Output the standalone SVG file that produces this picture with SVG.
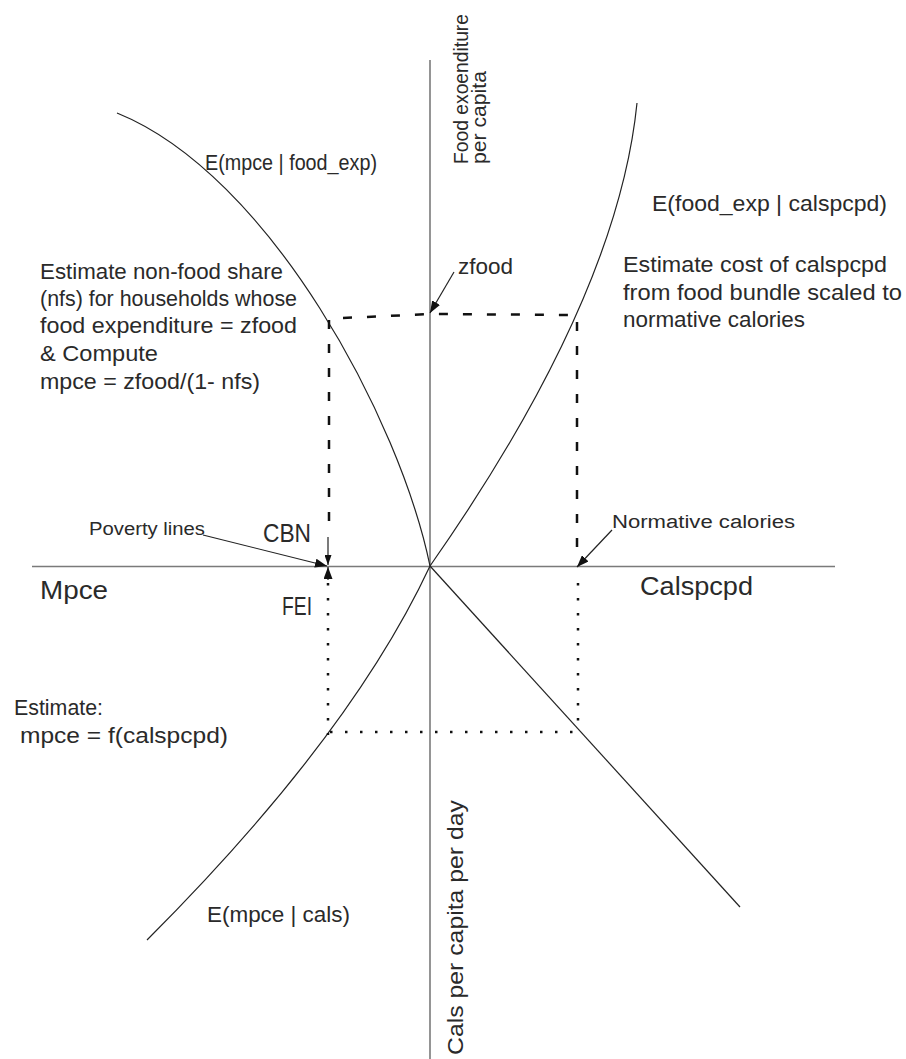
<svg xmlns="http://www.w3.org/2000/svg" width="906" height="1059" viewBox="0 0 906 1059">
<defs>
<style>
.bg{fill:#ffffff}
.axis{stroke:#7a7a7a;stroke-width:1.6;fill:none}
.curve{stroke:#222;stroke-width:1.2;fill:none}
.dash{stroke:#111;stroke-width:2.5;fill:none;stroke-dasharray:9 15}
.dot{stroke:#111;stroke-width:2.5;fill:none;stroke-dasharray:2.5 12.5}
.arrow{stroke:#222;stroke-width:1.2;fill:none}
text{font-family:"Liberation Sans",Arial,sans-serif;fill:#2a2a2a}
.t{font-size:22px}
.v{font-size:20px}
.s{font-size:18px}
.l{font-size:25px}
</style>
<marker id="ah" viewBox="0 0 12 9" refX="12" refY="4.5" markerWidth="12" markerHeight="9" markerUnits="userSpaceOnUse" orient="auto">
<path d="M0,0 L12,4.5 L0,9 z" fill="#111"/>
</marker>
<marker id="ahs" viewBox="0 0 10 7" refX="10" refY="3.5" markerWidth="10" markerHeight="7" markerUnits="userSpaceOnUse" orient="auto">
<path d="M0,0 L10,3.5 L0,7 z" fill="#111"/>
</marker>
</defs>
<rect class="bg" x="0" y="0" width="906" height="1059"/>

<g id="axes">
<line class="axis" x1="430" y1="60" x2="430" y2="1059"/>
<line class="axis" x1="32" y1="566.5" x2="835" y2="566.5"/>
</g>

<g id="curves">
<path id="curve-mpce-food" class="curve" d="M117,113 C270,175 400,420 430,566"/>
<path id="curve-food-cal" class="curve" d="M430,566 C535,416 622,253 637,103"/>
<path id="curve-mpce-cals" class="curve" d="M430,566 C374,686 277,810 147,940"/>
<line id="diagonal" class="curve" x1="430" y1="566" x2="740" y2="907"/>
</g>

<g id="connectors">
<path class="dash" d="M343,318 L430,314 L575,315"/>
<line class="dash" x1="329" y1="320" x2="329" y2="536"/>
<line class="dash" x1="577" y1="322" x2="577" y2="555"/>
<line class="dot" x1="328" y1="583" x2="328" y2="735"/>
<line class="dot" x1="330" y1="732" x2="580" y2="732"/>
<line class="dot" x1="578" y1="583" x2="578" y2="728"/>
<line class="arrow" x1="454" y1="272" x2="430" y2="313" marker-end="url(#ah)"/>
<line class="arrow" x1="203" y1="535" x2="327" y2="566" marker-end="url(#ah)"/>
<line class="arrow" x1="328" y1="537" x2="328" y2="565" marker-end="url(#ahs)"/>
<line class="arrow" x1="328" y1="580" x2="328" y2="567" marker-end="url(#ah)"/>
<line class="arrow" x1="612" y1="530" x2="577" y2="567" marker-end="url(#ah)"/>
</g>

<g id="labels">
<text class="t" x="205" y="170" textLength="172" lengthAdjust="spacingAndGlyphs">E(mpce | food_exp)</text>
<text class="v" transform="translate(468,164) rotate(-90)" textLength="150" lengthAdjust="spacingAndGlyphs">Food exoenditure</text>
<text class="v" transform="translate(486,164) rotate(-90)" textLength="93" lengthAdjust="spacingAndGlyphs">per capita</text>
<text class="t" x="458" y="274" textLength="55" lengthAdjust="spacingAndGlyphs">zfood</text>
<text class="t" x="652" y="211" textLength="235" lengthAdjust="spacingAndGlyphs">E(food_exp | calspcpd)</text>
<text class="t" x="623" y="272" textLength="264" lengthAdjust="spacingAndGlyphs">Estimate cost of calspcpd</text>
<text class="t" x="623" y="300" textLength="279" lengthAdjust="spacingAndGlyphs">from food bundle scaled to</text>
<text class="t" x="623" y="327" textLength="182" lengthAdjust="spacingAndGlyphs">normative calories</text>
<text class="t" x="40" y="279" textLength="243" lengthAdjust="spacingAndGlyphs">Estimate non-food share</text>
<text class="t" x="40" y="306" textLength="257" lengthAdjust="spacingAndGlyphs">(nfs) for households whose</text>
<text class="t" x="40" y="333" textLength="257" lengthAdjust="spacingAndGlyphs">food expenditure = zfood</text>
<text class="t" x="40" y="361" textLength="118" lengthAdjust="spacingAndGlyphs">&amp; Compute</text>
<text class="t" x="40" y="389" textLength="220" lengthAdjust="spacingAndGlyphs">mpce = zfood/(1- nfs)</text>
<text class="s" x="89" y="535" textLength="116" lengthAdjust="spacingAndGlyphs">Poverty lines</text>
<text class="l" x="263" y="542" textLength="48" lengthAdjust="spacingAndGlyphs">CBN</text>
<text class="s" x="612" y="528" textLength="183" lengthAdjust="spacingAndGlyphs">Normative calories</text>
<text class="l" x="40" y="599" textLength="68" lengthAdjust="spacingAndGlyphs">Mpce</text>
<text class="l" x="282" y="615" textLength="30" lengthAdjust="spacingAndGlyphs">FEI</text>
<text class="l" x="640" y="595" textLength="113" lengthAdjust="spacingAndGlyphs">Calspcpd</text>
<text class="t" x="14" y="715" textLength="89" lengthAdjust="spacingAndGlyphs">Estimate:</text>
<text class="t" x="20" y="743" textLength="208" lengthAdjust="spacingAndGlyphs">mpce = f(calspcpd)</text>
<text class="t" x="207" y="922" textLength="143" lengthAdjust="spacingAndGlyphs">E(mpce | cals)</text>
<text class="t" transform="translate(463,1055) rotate(-90)" textLength="255" lengthAdjust="spacingAndGlyphs">Cals per capita per day</text>
</g>
</svg>
